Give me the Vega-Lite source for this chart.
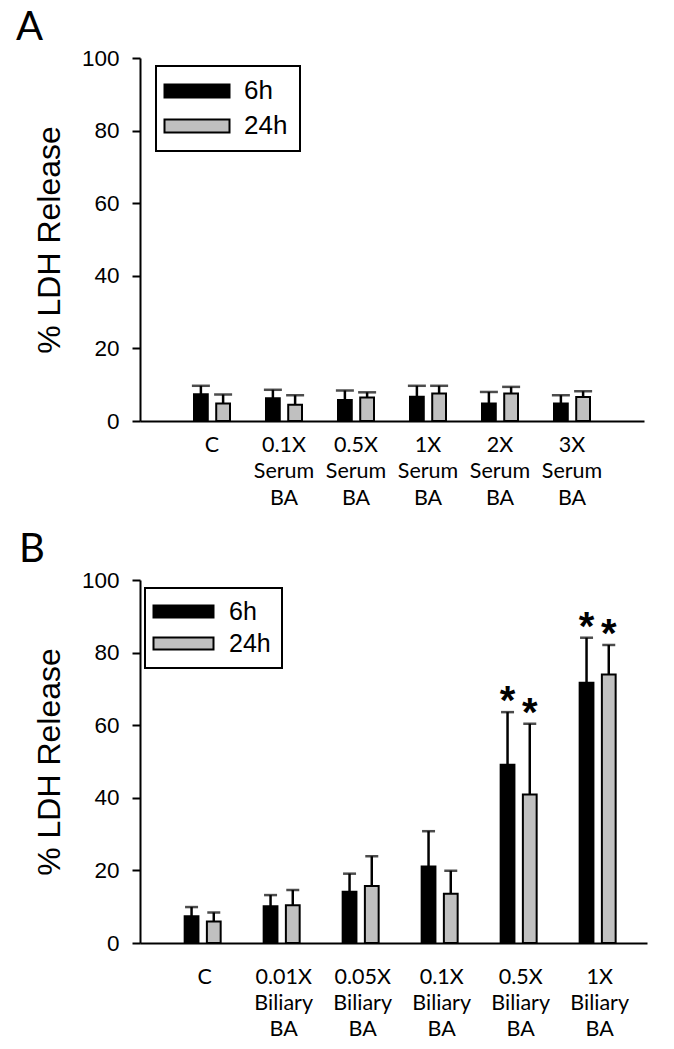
{
  "$schema": "https://vega.github.io/schema/vega-lite/v6.json",
  "padding": {"left": 16, "top": 8, "right": 5, "bottom": 5},
  "background": "white",
  "spacing": 21,
  "config": {
    "view": {"stroke": null},
    "font": "Liberation Sans",
    "axis": {"domainColor": "black", "domainWidth": 2, "tickColor": "black", "tickWidth": 2, "labelColor": "black", "titleColor": "black", "grid": false}
  },
  "resolve": {"scale": {"fill": "independent"}, "legend": {"fill": "independent"}},
  "vconcat": [
    {
      "title": {"text": "A", "anchor": "start", "frame": "group", "dx": -124, "fontSize": 40, "font": "Lato", "fontWeight": "normal", "offset": -1, "color": "black"},
      "width": 504,
      "height": 363,
      "data": {"values": [
        {"cat": "C", "series": "6h", "mean": 7.4, "upper": 9.7},
        {"cat": "C", "series": "24h", "mean": 4.8, "upper": 7.3},
        {"cat": "0.1X|Serum|BA", "series": "6h", "mean": 6.3, "upper": 8.6},
        {"cat": "0.1X|Serum|BA", "series": "24h", "mean": 4.5, "upper": 7.1},
        {"cat": "0.5X|Serum|BA", "series": "6h", "mean": 5.8, "upper": 8.4},
        {"cat": "0.5X|Serum|BA", "series": "24h", "mean": 6.5, "upper": 7.9},
        {"cat": "1X|Serum|BA", "series": "6h", "mean": 6.7, "upper": 9.7},
        {"cat": "1X|Serum|BA", "series": "24h", "mean": 7.6, "upper": 9.7},
        {"cat": "2X|Serum|BA", "series": "6h", "mean": 4.8, "upper": 8.0},
        {"cat": "2X|Serum|BA", "series": "24h", "mean": 7.6, "upper": 9.4},
        {"cat": "3X|Serum|BA", "series": "6h", "mean": 4.8, "upper": 7.1},
        {"cat": "3X|Serum|BA", "series": "24h", "mean": 6.6, "upper": 8.2}
      ]},
      "encoding": {
        "x": {"field": "cat", "type": "nominal", "sort": null,
          "scale": {"paddingInner": 0.5, "paddingOuter": 0.75, "align": 0.5},
          "axis": {"title": null, "labelExpr": "split(datum.label, '|')", "labelAngle": 0, "labelFont": "Lato", "labelFontSize": 21.5, "labelLineHeight": 26.5, "labelPadding": 13, "ticks": false, "tickSize": 0, "labelBaseline": "top"}},
        "xOffset": {"field": "series", "type": "nominal", "sort": ["6h", "24h"], "scale": {"paddingInner": 0.38, "paddingOuter": 0}},
        "y": {"field": "mean", "type": "quantitative", "title": "% LDH Release",
          "scale": {"domain": [0, 100], "nice": false},
          "axis": {"values": [0, 20, 40, 60, 80, 100], "labelFontSize": 22.5, "labelFont": "Liberation Sans", "labelPadding": 13, "tickSize": 8, "titleFontSize": 32, "titleFont": "Liberation Sans", "titleFontWeight": "normal", "titlePadding": 15}}
      },
      "layer": [
        {"mark": {"type": "rule", "strokeWidth": 2.5, "color": "black"}, "encoding": {"y2": {"field": "upper"}}},
        {"mark": {"type": "tick", "orient": "horizontal", "size": 18, "thickness": 2.5, "color": "black"}, "encoding": {"y": {"field": "upper", "type": "quantitative", "title": "% LDH Release"}}},
        {"mark": {"type": "bar", "stroke": "black", "strokeWidth": 2},
          "encoding": {"fill": {"field": "series", "type": "nominal", "sort": ["6h", "24h"],
            "scale": {"domain": ["6h", "24h"], "range": ["black", "#c0c0c0"]},
            "legend": {"title": null, "orient": "none", "legendX": 16, "legendY": 8, "direction": "vertical",
              "symbolType": "M-5,-1H5V1H-5Z", "symbolSize": 169, "symbolOffset": 16, "labelOffset": 34,
              "labelFontSize": 26, "labelFont": "Liberation Sans", "labelColor": "black", "rowPadding": 9, "padding": 12,
              "strokeColor": "black", "symbolStrokeColor": "black", "symbolStrokeWidth": 2, "symbolOpacity": 1,
              "encode": {"legend": {"update": {"strokeWidth": {"value": 2}}}, "symbols": {"update": {"stroke": {"value": "black"}, "strokeWidth": {"value": 2}}}}}}}}
      ]
    },
    {
      "title": {"text": "B", "anchor": "start", "frame": "group", "dx": -121, "fontSize": 40, "font": "Lato", "fontWeight": "normal", "offset": -1, "color": "black"},
      "width": 507,
      "height": 363,
      "data": {"values": [
        {"cat": "C", "series": "6h", "mean": 7.4, "upper": 9.9, "sig": false},
        {"cat": "C", "series": "24h", "mean": 5.9, "upper": 8.4, "sig": false},
        {"cat": "0.01X|Biliary|BA", "series": "6h", "mean": 10.1, "upper": 13.2, "sig": false},
        {"cat": "0.01X|Biliary|BA", "series": "24h", "mean": 10.4, "upper": 14.6, "sig": false},
        {"cat": "0.05X|Biliary|BA", "series": "6h", "mean": 14.1, "upper": 19.1, "sig": false},
        {"cat": "0.05X|Biliary|BA", "series": "24h", "mean": 15.7, "upper": 23.9, "sig": false},
        {"cat": "0.1X|Biliary|BA", "series": "6h", "mean": 21.1, "upper": 30.8, "sig": false},
        {"cat": "0.1X|Biliary|BA", "series": "24h", "mean": 13.6, "upper": 19.9, "sig": false},
        {"cat": "0.5X|Biliary|BA", "series": "6h", "mean": 49.1, "upper": 63.6, "sig": true},
        {"cat": "0.5X|Biliary|BA", "series": "24h", "mean": 40.9, "upper": 60.4, "sig": true},
        {"cat": "1X|Biliary|BA", "series": "6h", "mean": 71.7, "upper": 84.1, "sig": true},
        {"cat": "1X|Biliary|BA", "series": "24h", "mean": 74.0, "upper": 82.1, "sig": true}
      ]},
      "encoding": {
        "x": {"field": "cat", "type": "nominal", "sort": null,
          "scale": {"paddingInner": 0.494, "paddingOuter": 0.456, "align": 0.62},
          "axis": {"title": null, "labelExpr": "split(datum.label, '|')", "labelAngle": 0, "labelFont": "Lato", "labelFontSize": 21.5, "labelLineHeight": 26, "labelPadding": 23, "ticks": false, "tickSize": 0, "labelBaseline": "top"}},
        "xOffset": {"field": "series", "type": "nominal", "sort": ["6h", "24h"], "scale": {"paddingInner": 0.38, "paddingOuter": 0}},
        "y": {"field": "mean", "type": "quantitative", "title": "% LDH Release",
          "scale": {"domain": [0, 100], "nice": false},
          "axis": {"values": [0, 20, 40, 60, 80, 100], "labelFontSize": 22.5, "labelFont": "Liberation Sans", "labelPadding": 13, "tickSize": 8, "titleFontSize": 32, "titleFont": "Liberation Sans", "titleFontWeight": "normal", "titlePadding": 15}}
      },
      "layer": [
        {"mark": {"type": "rule", "strokeWidth": 2.5, "color": "black"}, "encoding": {"y2": {"field": "upper"}}},
        {"mark": {"type": "tick", "orient": "horizontal", "size": 13, "thickness": 2.5, "color": "black"}, "encoding": {"y": {"field": "upper", "type": "quantitative", "title": "% LDH Release"}}},
        {"transform": [{"filter": "datum.sig"}],
          "mark": {"type": "text", "text": "*", "fontSize": 40, "fontWeight": "bold", "font": "Liberation Sans", "baseline": "alphabetic", "dy": 2, "color": "black"},
          "encoding": {"y": {"field": "upper", "type": "quantitative", "title": "% LDH Release"}}},
        {"mark": {"type": "bar", "stroke": "black", "strokeWidth": 2},
          "encoding": {"fill": {"field": "series", "type": "nominal", "sort": ["6h", "24h"],
            "scale": {"domain": ["6h", "24h"], "range": ["black", "#c0c0c0"]},
            "legend": {"title": null, "orient": "none", "legendX": 5, "legendY": 8, "direction": "vertical",
              "symbolType": "M-5,-1H5V1H-5Z", "symbolSize": 144, "symbolOffset": 15, "labelOffset": 33,
              "labelFontSize": 25, "labelFont": "Liberation Sans", "labelColor": "black", "rowPadding": 6, "padding": 11,
              "strokeColor": "black", "symbolStrokeColor": "black", "symbolStrokeWidth": 2, "symbolOpacity": 1,
              "encode": {"legend": {"update": {"strokeWidth": {"value": 2}}}, "symbols": {"update": {"stroke": {"value": "black"}, "strokeWidth": {"value": 2}}}}}}}}
      ]
    }
  ]
}
